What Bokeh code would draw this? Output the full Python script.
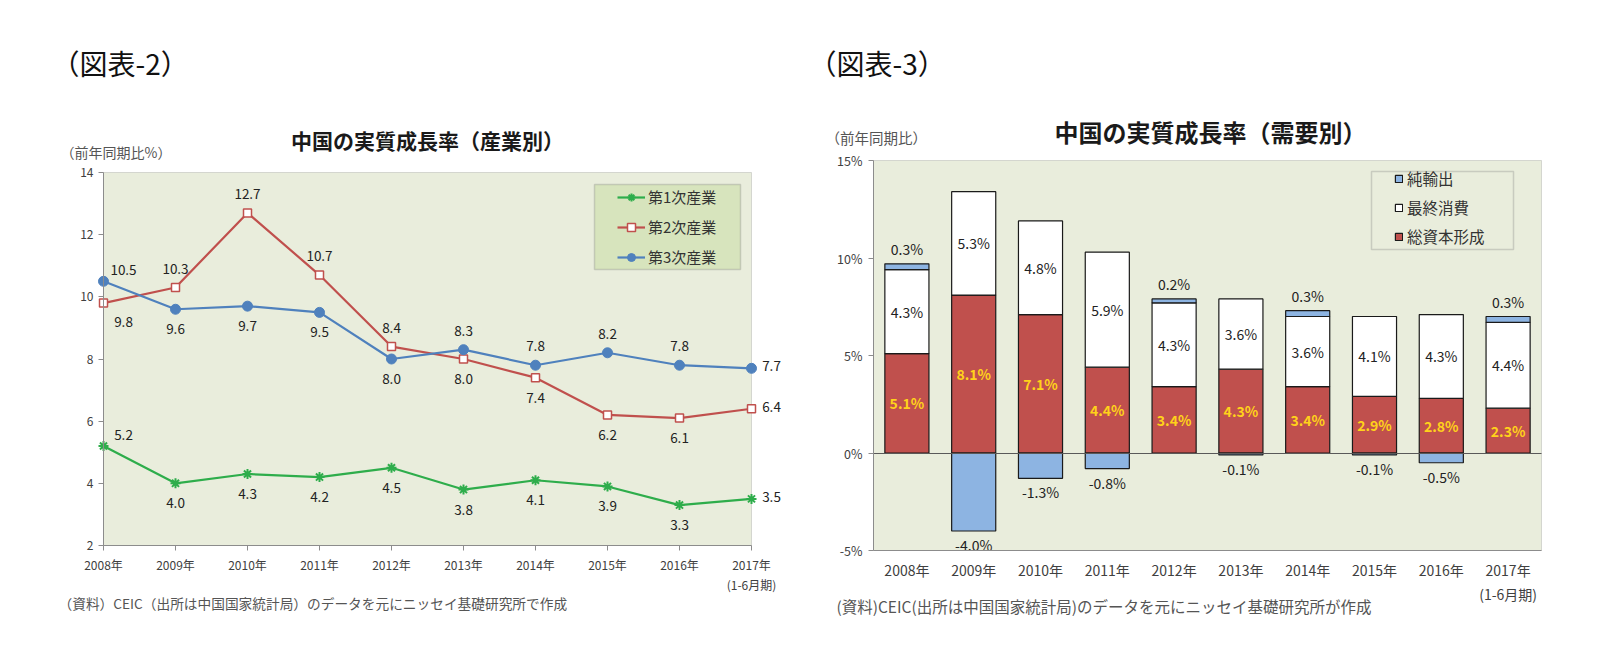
from bokeh.plotting import figure
from bokeh.models import (ColumnDataSource, Range1d, FixedTicker, Label, Legend,
                          LegendItem, BoxAnnotation, LinearAxis)
from bokeh.embed import file_html
from bokeh.resources import INLINE
from bokeh.core.properties import value

FONT = "Noto Sans CJK JP"

# ---------------- data ----------------
years = ["2008年", "2009年", "2010年", "2011年", "2012年",
         "2013年", "2014年", "2015年", "2016年", "2017年"]
last_note = "(1-6月期)"

# 図表-2 : 産業別
primary = [5.2, 4.0, 4.3, 4.2, 4.5, 3.8, 4.1, 3.9, 3.3, 3.5]
secondary = [9.8, 10.3, 12.7, 10.7, 8.4, 8.0, 7.4, 6.2, 6.1, 6.4]
tertiary = [10.5, 9.6, 9.7, 9.5, 8.0, 8.3, 7.8, 8.2, 7.8, 7.7]
left_yticks = [2, 4, 6, 8, 10, 12, 14]

# 図表-3 : 需要別
capital = [5.1, 8.1, 7.1, 4.4, 3.4, 4.3, 3.4, 2.9, 2.8, 2.3]
consumption = [4.3, 5.3, 4.8, 5.9, 4.3, 3.6, 3.6, 4.1, 4.3, 4.4]
net_exports = [0.3, -4.0, -1.3, -0.8, 0.2, -0.1, 0.3, -0.1, -0.5, 0.3]
right_yticks = [-5, 0, 5, 10, 15]

# label placement codes (style)
pos_primary = ["ar", "b", "b", "b", "b", "b", "b", "b", "b", "r"]
pos_secondary = ["br", "a", "a", "a", "a", "b", "b", "b", "b", "r"]
pos_tertiary = ["ar", "b", "b", "b", "b", "a", "a", "a", "a", "r"]
OFFS = {"a": (0, -19), "b": (0, 20), "ar": (20, -11), "br": (20, 19), "r": (20, -2)}

n = len(years)
idx = list(range(n))
tick_labels = {i: (years[i] if i < n - 1 else years[i] + "\n" + last_note) for i in idx}

PLOT_BG = "#E9EDDC"
GREEN, RED, BLUE = "#2EAD4B", "#C0504D", "#4F81BD"

# ---------------- page geometry (page pixels) ----------------
MARGIN = 0
W, H = 1614, 655
LX0, LX1, LY_TOP, LY_BOT = 103, 751, 172, 545     # left plot area
RX0, RX1, RY_TOP, RY_BOT = 873, 1541, 160, 550    # right plot area

lux = (LX1 - LX0) / (n - 1)
luy = (LY_BOT - LY_TOP) / (left_yticks[-1] - left_yticks[0])
rux = (RX1 - RX0) / n
ruy = (RY_BOT - RY_TOP) / (right_yticks[-1] - right_yticks[0])

x_range = Range1d(0 - (LX0 - MARGIN) / lux, (n - 1) + (MARGIN + W - LX1) / lux)
y_range = Range1d(left_yticks[0] - (MARGIN + H - LY_BOT) / luy,
                  left_yticks[-1] + (LY_TOP - MARGIN) / luy)
rx_range = Range1d(-0.5 - (RX0 - MARGIN) / rux, (n - 0.5) + (MARGIN + W - RX1) / rux)
ry_range = Range1d(right_yticks[0] - (MARGIN + H - RY_BOT) / ruy,
                   right_yticks[-1] + (RY_TOP - MARGIN) / ruy)

p = figure(width=W, height=H, min_border=0, x_range=x_range, y_range=y_range,
           output_backend="svg", toolbar_location=None, title=None,
           background_fill_color="white", border_fill_color="white",
           outline_line_color=None)
p.extra_x_ranges = {"rx": rx_range}
p.extra_y_ranges = {"ry": ry_range}
p.xgrid.visible = False
p.ygrid.visible = False


def sx(px):
    return px - MARGIN


def sy(py):
    return MARGIN + H - py


def add_text(px, py, text, size, color="#222222", align="left", bold=False):
    p.add_layout(Label(x=sx(px), y=sy(py), x_units="screen", y_units="screen",
                       text=text, text_font=FONT, text_font_size=f"{size}px",
                       text_color=color, text_align=align, text_baseline="middle",
                       text_font_style="bold" if bold else "normal"))


def style_axis(ax, size):
    ax.axis_line_color = "#8C8C8C"
    ax.major_tick_line_color = "#8C8C8C"
    ax.minor_tick_line_color = None
    ax.major_tick_in = 0
    ax.major_tick_out = 5
    ax.major_label_text_font = FONT
    ax.major_label_text_font_size = f"{size}px"
    ax.major_label_text_color = "#404040"


# ---------------- left chart ----------------
p.add_layout(BoxAnnotation(left=0, right=n - 1, bottom=left_yticks[0], top=left_yticks[-1],
                           fill_color=PLOT_BG, fill_alpha=1, line_color="#8C8C8C",
                           line_width=1, level="underlay"))

lx = p.xaxis[0]
style_axis(lx, 12)
lx.ticker = FixedTicker(ticks=idx)
lx.major_label_overrides = tick_labels
lx.major_label_standoff = 5
lx.fixed_location = left_yticks[0]
lx.bounds = (0, n - 1)

ly = p.yaxis[0]
style_axis(ly, 12)
ly.ticker = FixedTicker(ticks=left_yticks)
ly.major_label_standoff = 5
ly.fixed_location = 0
ly.bounds = (left_yticks[0], left_yticks[-1])

series = [("第1次産業", primary, GREEN, pos_primary),
          ("第2次産業", secondary, RED, pos_secondary),
          ("第3次産業", tertiary, BLUE, pos_tertiary)]
items = []
for name, vals, col, pos in series:
    src = ColumnDataSource(dict(x=idx, y=vals))
    lr = p.line("x", "y", source=src, line_color=col, line_width=2.2)
    if name == "第1次産業":
        sr = p.scatter("x", "y", source=src, marker="asterisk", size=10,
                       line_color=col, line_width=2)
    elif name == "第2次産業":
        sr = p.scatter("x", "y", source=src, marker="square", size=8,
                       fill_color="white", line_color=col, line_width=1.5)
    else:
        sr = p.scatter("x", "y", source=src, marker="circle", size=10,
                       fill_color=col, line_color=col)
    items.append(LegendItem(label=name, renderers=[lr, sr]))
    lsrc = ColumnDataSource(dict(x=idx, y=vals, t=[f"{v:.1f}" for v in vals],
                                 dx=[OFFS[c][0] for c in pos], dy=[OFFS[c][1] for c in pos]))
    p.text("x", "y", text="t", x_offset="dx", y_offset="dy", source=lsrc,
           text_font=value(FONT), text_font_size="13.5px", text_color="#222222",
           text_align="center", text_baseline="middle")

p.add_layout(BoxAnnotation(left=sx(594), right=sx(740), top=sy(184), bottom=sy(269),
                           left_units="screen", right_units="screen",
                           top_units="screen", bottom_units="screen",
                           fill_color="#D7E4BD", fill_alpha=1,
                           line_color="#7F7F7F", line_width=1.5))
leg1 = Legend(items=items, location=(sx(617), sy(267)),
              background_fill_alpha=0, border_line_alpha=0, padding=0, margin=0,
              spacing=9, glyph_width=28, glyph_height=20, label_height=20,
              label_standoff=3, label_text_font=FONT, label_text_font_size="15px",
              label_text_color="#333333")
p.add_layout(leg1)

add_text(51, 62, "（図表-2）", 28, color="#111111")
add_text((LX0 + LX1) / 2, 139, "中国の実質成長率（産業別）", 21, color="#1a1a1a",
         align="center", bold=True)
add_text(60, 151, "（前年同期比%）", 14, color="#555555")
add_text(58, 602, "（資料）CEIC（出所は中国国家統計局）のデータを元にニッセイ基礎研究所で作成",
         13.7, color="#555555")

# ---------------- right chart ----------------
p.add_layout(BoxAnnotation(left=-0.5, right=n - 0.5, bottom=right_yticks[0],
                           top=right_yticks[-1], x_range_name="rx", y_range_name="ry",
                           fill_color=PLOT_BG, fill_alpha=1, line_color="#8C8C8C",
                           line_width=1, level="underlay"))

rx = LinearAxis(x_range_name="rx", y_range_name="ry")
style_axis(rx, 14)
rx.ticker = FixedTicker(ticks=idx)
rx.major_label_overrides = tick_labels
rx.major_tick_out = 0
rx.major_label_standoff = 9
rx.fixed_location = right_yticks[0]
rx.bounds = (-0.5, n - 0.5)
p.add_layout(rx, "below")

ry = LinearAxis(x_range_name="rx", y_range_name="ry")
style_axis(ry, 12.5)
ry.ticker = FixedTicker(ticks=right_yticks)
ry.major_label_overrides = {v: f"{v}%" for v in right_yticks}
ry.major_label_standoff = 6
ry.fixed_location = -0.5
ry.bounds = (right_yticks[0], right_yticks[-1])
p.add_layout(ry, "left")

con_bot = capital
con_top = [a + b for a, b in zip(capital, consumption)]
ne_bot = [t if e >= 0 else 0 for t, e in zip(con_top, net_exports)]
ne_top = [b + e for b, e in zip(ne_bot, net_exports)]

BAR_W = 0.66
RN = dict(x_range_name="rx", y_range_name="ry")
r_cap = p.vbar(x=idx, width=BAR_W, bottom=0, top=capital, fill_color=RED,
               line_color="#1a1a1a", line_width=1.2, **RN)
r_con = p.vbar(x=idx, width=BAR_W, bottom=con_bot, top=con_top, fill_color="white",
               line_color="#1a1a1a", line_width=1.2, **RN)
r_ne = p.vbar(x=idx, width=BAR_W, bottom=ne_bot, top=ne_top, fill_color="#8DB4E2",
              line_color="#1a1a1a", line_width=1.2, **RN)

# horizontal category axis line crossing at 0 (as in the original)
zero_axis = LinearAxis(x_range_name="rx", y_range_name="ry", ticker=FixedTicker(ticks=[]),
                       fixed_location=0, bounds=(-0.5, n - 0.5),
                       axis_line_color="#595959", axis_line_width=1,
                       major_tick_line_color=None, minor_tick_line_color=None)
p.add_layout(zero_axis, "below")

src_cap = ColumnDataSource(dict(x=idx, y=[v / 2 for v in capital],
                                t=[f"{v:.1f}%" for v in capital]))
p.text("x", "y", text="t", source=src_cap, text_font=value(FONT), text_font_size="14px",
       text_color="#FFD21A", text_font_style="bold", text_align="center",
       text_baseline="middle", **RN)
src_con = ColumnDataSource(dict(x=idx, y=[a + b / 2 for a, b in zip(capital, consumption)],
                                t=[f"{v:.1f}%" for v in consumption]))
p.text("x", "y", text="t", source=src_con, text_font=value(FONT), text_font_size="14px",
       text_color="#222222", text_align="center", text_baseline="middle", **RN)
src_ne = ColumnDataSource(dict(x=idx, y=ne_top, t=[f"{v:.1f}%" for v in net_exports],
                               dy=[-15 if e >= 0 else 14 for e in net_exports]))
p.text("x", "y", text="t", y_offset="dy", source=src_ne, text_font=value(FONT),
       text_font_size="14px", text_color="#222222", text_align="center",
       text_baseline="middle", **RN)

p.add_layout(BoxAnnotation(left=sx(1371), right=sx(1513), top=sy(171), bottom=sy(249),
                           left_units="screen", right_units="screen",
                           top_units="screen", bottom_units="screen",
                           fill_color=PLOT_BG, fill_alpha=1,
                           line_color="#7F7F7F", line_width=1.5))
leg2 = Legend(items=[LegendItem(label="純輸出", renderers=[r_ne]),
                     LegendItem(label="最終消費", renderers=[r_con]),
                     LegendItem(label="総資本形成", renderers=[r_cap])],
              location=(sx(1394), sy(247)),
              background_fill_alpha=0, border_line_alpha=0, padding=0, margin=0,
              spacing=7, glyph_width=9, glyph_height=9, label_height=20,
              label_standoff=4, label_text_font=FONT, label_text_font_size="15.5px",
              label_text_color="#333333")
p.add_layout(leg2)

add_text(808, 62, "（図表-3）", 28, color="#111111")
add_text((RX0 + RX1) / 2 + 3, 131, "中国の実質成長率（需要別）", 24, color="#1a1a1a",
         align="center", bold=True)
add_text(825, 137, "（前年同期比）", 14.5, color="#555555")
add_text(836, 605, "(資料)CEIC(出所は中国国家統計局)のデータを元にニッセイ基礎研究所が作成",
         15.5, color="#555555")

open("out.html", "w").write(file_html(p, INLINE))
